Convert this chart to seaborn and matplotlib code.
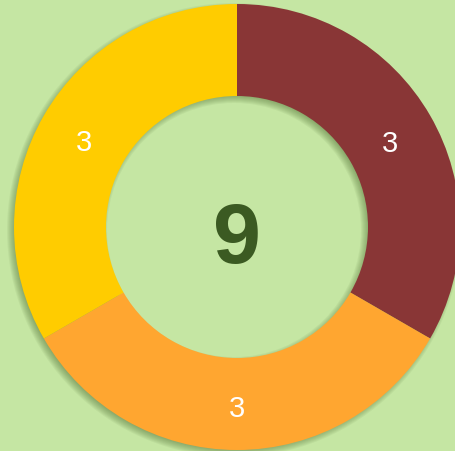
import numpy as np
import seaborn as sns
import matplotlib.pyplot as plt

# segment values, clockwise from 12 o'clock
segment_names = ['A', 'B', 'C']
segment_values = [3, 3, 3]
segment_colors = ['#893636', '#ffa630', '#ffcc00']
total = sum(segment_values)

bg = '#c5e6a3'
sns.set_theme(style='white')
plt.rcParams['font.family'] = ['Liberation Sans', 'DejaVu Sans']

fig = plt.figure(figsize=(4.56, 4.52), dpi=100, facecolor=bg)
ax = fig.add_axes([0, 0, 1, 1])
ax.set_facecolor(bg)

cx, cy = 237, 224
R, r = 223, 131

# soft drop shadow (offset down-left), built from stacked faint rings
for k in np.linspace(-4, 4, 9):
    ax.pie([total], radius=R + k, center=(cx - 3, cy - 3), colors=['#4d6b30'],
           wedgeprops=dict(width=(R + k) - (r - k), linewidth=0, alpha=0.07),
           frame=True)

wedges, texts, autotexts = ax.pie(
    segment_values, radius=R, center=(cx, cy), colors=segment_colors,
    startangle=90, counterclock=False,
    wedgeprops=dict(width=R - r, linewidth=0),
    autopct=lambda p: f'{p * total / 100:.0f}',
    pctdistance=(R + r) / 2 / R, frame=True,
    textprops=dict(color='white', fontsize=21))

# nudge the value labels so the digits sit centred on the ring
for t in autotexts:
    x, y = t.get_position()
    t.set_position((x, y - 4))

ax.set_xlim(0, 456)
ax.set_ylim(0, 452)
ax.set_aspect('auto')
ax.axis('off')

ax.text(cx, 452 - 263, str(total), ha='center', va='baseline', fontsize=62,
        fontweight='bold', color='#3b5a22')

fig.savefig('out.png', dpi=100, facecolor=bg)
